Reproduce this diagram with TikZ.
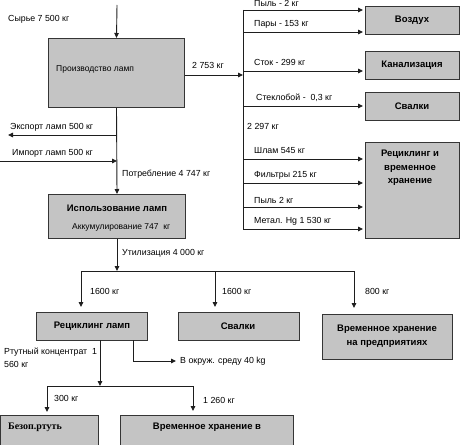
\documentclass[tikz,border=0pt]{standalone}
\usepackage{fontspec}
\setmainfont{Liberation Sans}
\newfontfamily\serifbold{Liberation Serif}
\usetikzlibrary{arrows.meta}
\definecolor{boxgray}{RGB}{196,196,196}
\definecolor{linegray}{RGB}{30,30,30}
\tikzset{
  flowbox/.style={draw=linegray!90, line width=1pt, fill=boxgray, inner sep=0pt, anchor=north west},
  boxtext/.style={font=\fontsize{9.5}{11.5}\selectfont\bfseries, align=center, inner sep=0pt},
  lbl/.style={font=\fontsize{8.8}{10}\selectfont, anchor=west, inner sep=0pt},
  flow/.style={draw=linegray, line width=0.9pt, -{Triangle[length=5pt,width=4.5pt]}},
  plain/.style={draw=linegray, line width=0.9pt},
}
\begin{document}
\begin{tikzpicture}[x=1pt,y=-1pt]
\useasboundingbox (0,0) rectangle (460,444);
% boxes
\node[flowbox, minimum width=136pt, minimum height=69pt] (prod) at (48,38) {};
\node[flowbox, minimum width=137pt, minimum height=44pt] (use) at (48,194) {};
\node[flowbox, minimum width=94pt, minimum height=28pt] (vozd) at (365,6) {};
\node[flowbox, minimum width=94pt, minimum height=28pt] (kanal) at (365,51) {};
\node[flowbox, minimum width=94pt, minimum height=28pt] (sval1) at (365,92) {};
\node[flowbox, minimum width=94pt, minimum height=96pt] (recyc) at (365,142) {};
\node[flowbox, minimum width=111pt, minimum height=28pt] (recl) at (36,312) {};
\node[flowbox, minimum width=121pt, minimum height=28pt] (sval2) at (178,312) {};
\node[flowbox, minimum width=130pt, minimum height=45pt] (vremp) at (322,314) {};
\node[flowbox, minimum width=98pt, minimum height=34pt] (bezop) at (0,415) {};
\node[flowbox, minimum width=173pt, minimum height=34pt] (vremv) at (120,415) {};
% box texts
\node[lbl, font=\fontsize{8.5}{10}\selectfont] (prodt) at (56,69) {Производство ламп};
\node[boxtext] (uset) at (117,208) {Использование ламп};
\node[lbl, font=\fontsize{8.5}{10}\selectfont] (usea) at (72,227) {Аккумулирование 747\ \ кг};
\node[boxtext] (vozdt) at (412,20) {Воздух};
\node[boxtext] (kanalt) at (412,65) {Канализация};
\node[boxtext] (sval1t) at (412,106) {Свалки};
\node[boxtext, anchor=north, font=\fontsize{9.5}{13.5}\selectfont\bfseries] (recyct) at (410,150) {Рециклинг и\\временное\\хранение};
\node[boxtext] (reclt) at (92,326) {Рециклинг ламп};
\node[boxtext] (sval2t) at (238,326) {Свалки};
\node[boxtext, font=\fontsize{9.5}{14}\selectfont\bfseries] (vrempt) at (387,336) {Временное хранение\\на предприятиях};
\node[lbl, font=\fontsize{10}{11}\serifbold\bfseries] (bezopt) at (8,427) {Безоп.ртуть};
\node[boxtext] (vremvt) at (207,427) {Временное хранение в};
% coordinates
\coordinate (src) at (117,5);
\coordinate (junc) at (243,75);
\coordinate (rtop) at (243,10);
\coordinate (rbot) at (243,229);
\coordinate (expo) at (117,135);
\coordinate (expend) at (8,135);
\coordinate (impstart) at (0,161);
\coordinate (impo) at (117,161);
\coordinate (split) at (117,271);
\coordinate (hl) at (81,271);
\coordinate (hm) at (215,271);
\coordinate (hr) at (354,271);
\coordinate (recb) at (100,340);
\coordinate (lsplit) at (100,386);
\coordinate (ll) at (47,386);
\coordinate (lr) at (193,386);
\coordinate (envs) at (133,340);
\coordinate (envc) at (133,361);
\coordinate (enve) at (176,361);
% connectors
\draw[flow] (src) -- (prod.north);
\draw[flow] (prod.east |- junc) -- (junc);
\draw[plain] (rtop) -- (rbot);
\foreach \yy in {10,32,71,106,159,183,207,229} {
  \draw[flow] (243,\yy) -- (363,\yy);
}
\draw[flow] (prod.south) -- (use.north);
\draw[flow] (expo) -- (expend);
\draw[flow] (impstart) -- (impo);
\draw[flow] (use.south) -- (split);
\draw[plain] (hl) -- (hr);
\draw[flow] (hl) -- (81,307);
\draw[flow] (hm) -- (215,307);
\draw[flow] (hr) -- (354,308);
\draw[flow] (recb) -- (lsplit);
\draw[plain] (ll) -- (lr);
\draw[flow] (ll) -- (47,412);
\draw[flow] (lr) -- (193,411);
\draw[flow] (envs) -- (envc) -- (enve);
% labels
\node[lbl] (l1) at (8,19) {Сырье 7 500 кг};
\node[lbl] (l2) at (192,65) {2 753 кг};
\node[lbl] (l3) at (10,127) {Экспорт ламп 500 кг};
\node[lbl] (l4) at (12,153) {Импорт ламп 500 кг};
\node[lbl] (l5) at (122,174) {Потребление 4 747 кг};
\node[lbl] (l6) at (122,253) {Утилизация 4 000 кг};
\node[lbl] (l7) at (90,291) {1600 кг};
\node[lbl] (l8) at (222,291) {1600 кг};
\node[lbl] (l9) at (365,291) {800 кг};
\node[lbl] (l10) at (4,352) {Ртутный концентрат\ \ 1};
\node[lbl] (l11) at (4,364) {560 кг};
\node[lbl] (l12) at (180,361) {В окруж. среду 40 kg};
\node[lbl] (l13) at (54,398) {300 кг};
\node[lbl] (l14) at (203,400) {1 260 кг};
\node[lbl] (r1) at (254,3) {Пыль - 2 кг};
\node[lbl] (r2) at (254,24) {Пары - 153 кг};
\node[lbl] (r3) at (254,62) {Сток - 299 кг};
\node[lbl] (r4) at (256,98) {Стеклобой -\ \ 0,3 кг};
\node[lbl] (r5) at (247,126) {2 297 кг};
\node[lbl] (r6) at (254,151) {Шлам 545 кг};
\node[lbl] (r7) at (254,175) {Фильтры 215 кг};
\node[lbl] (r8) at (254,200) {Пыль 2 кг};
\node[lbl] (r9) at (254,221) {Метал. Hg 1 530 кг};
\end{tikzpicture}
\end{document}
